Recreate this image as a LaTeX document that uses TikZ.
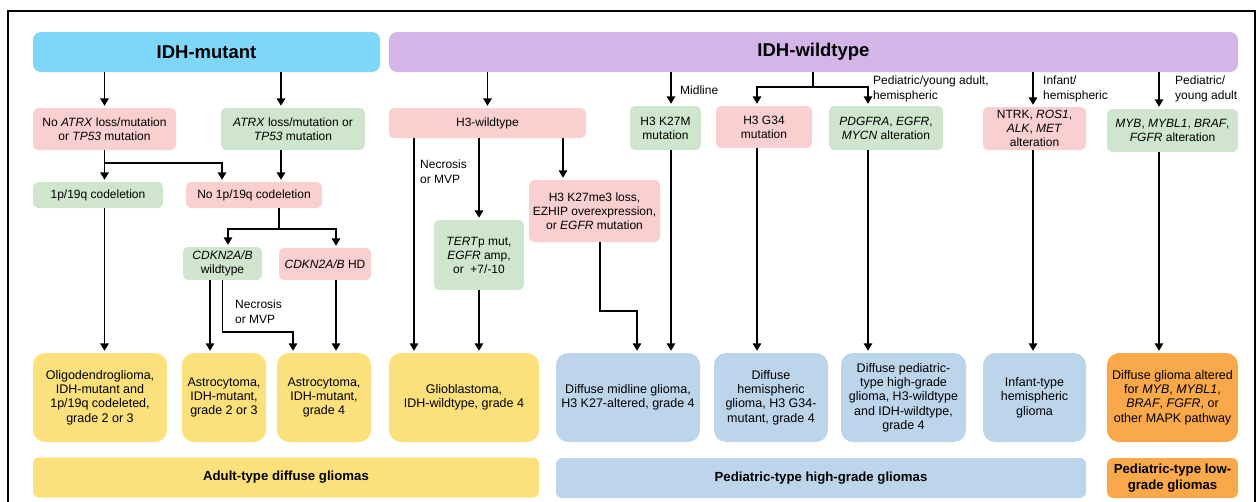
\documentclass[tikz,border=0pt]{standalone}
\usepackage{fontspec}
\setmainfont{Liberation Sans}
\usepackage{tikz}
\usetikzlibrary{
	arrows.meta,
	positioning,
	calc
}
\usepackage{xcolor}

\definecolor{mutblue}{HTML}{7ED6F8}
\definecolor{wtpurple}{HTML}{D3B6E7}
\definecolor{negpink}{HTML}{F9CFCF}
\definecolor{posgreen}{HTML}{CFE5CD}
\definecolor{adultyellow}{HTML}{FCE07C}
\definecolor{hggblue}{HTML}{BDD5EB}
\definecolor{lggorange}{HTML}{F9A84A}

\begin{document}
\begin{tikzpicture}[x=1pt,y=-1pt,
	box/.style={rounded corners=5pt, inner sep=0pt, align=center, font=\fontsize{12}{14}\selectfont},
	pinkbox/.style={box, fill=negpink},
	greenbox/.style={box, fill=posgreen},
	headbox/.style={rounded corners=8pt, inner sep=0pt, minimum height=40, font=\fontsize{18.5}{21}\selectfont\bfseries},
	entity/.style={rounded corners=12pt, inner sep=0pt, minimum height=89, align=center, font=\fontsize{12.5}{14.3}\selectfont},
	group/.style={rounded corners=6pt, inner sep=0pt, minimum height=40, align=center, font=\fontsize{13.2}{16}\selectfont\bfseries},
	note/.style={inner sep=0pt, anchor=west, align=left, font=\fontsize{12}{14.5}\selectfont},
	ln/.style={line width=1.6pt},
	arr/.style={line width=1.6pt, shorten >=2pt, -{Triangle[length=7.5pt,width=8.5pt]}}
	]
		
		\useasboundingbox (0,0) rectangle (1258,501);
		\draw[line width=2pt] (8,505) -- (8,11) -- (1255,11) -- (1255,505);
		
		\node[headbox, fill=mutblue, minimum width=347] (idhmut) at (206.5,52) {IDH-mutant};
		\node[headbox, fill=wtpurple, minimum width=849] (idhwt) at (813.5,52) {IDH-wildtype};
		
		\node[pinkbox, minimum width=143, minimum height=42] (noatrx) at (104.5,129) {No \textit{ATRX} loss/mutation\\or \textit{TP53} mutation};
		\node[greenbox, minimum width=144, minimum height=42] (atrx) at (293,129) {\textit{ATRX} loss/mutation or\\\textit{TP53} mutation};
		\node[greenbox, minimum width=130, minimum height=26] (codel) at (98,195) {1p/19q codeletion};
		\node[pinkbox, minimum width=136, minimum height=26] (nocodel) at (254,195) {No 1p/19q codeletion};
		\node[greenbox, minimum width=79, minimum height=33] (cdknwt) at (222.5,263.5) {\textit{CDKN2A/B}\\wildtype};
		\node[pinkbox, minimum width=92, minimum height=32] (cdknhd) at (325,264) {\textit{CDKN2A/B} HD};
		
		\node[pinkbox, minimum width=197, minimum height=30] (h3wt) at (487.5,123) {H3-wildtype};
		\node[greenbox, minimum width=90, minimum height=70] (tert) at (479,255) {\textit{TERT}p mut,\\\textit{EGFR} amp,\\or~~+7/-10};
		\node[pinkbox, minimum width=131, minimum height=62] (h3kme) at (594.5,211) {H3 K27me3 loss,\\EZHIP overexpression,\\or \textit{EGFR} mutation};
		\node[greenbox, minimum width=71, minimum height=44] (h3k27m) at (665.5,128) {H3 K27M\\mutation};
		\node[pinkbox, minimum width=96, minimum height=42] (h3g34) at (764,127) {H3 G34\\mutation};
		\node[greenbox, minimum width=114, minimum height=44] (pdgfra) at (886,128) {\textit{PDGFRA}, \textit{EGFR},\\\textit{MYCN} alteration};
		\node[pinkbox, minimum width=103, minimum height=43] (ntrk) at (1034.5,128.5) {NTRK, \textit{ROS1},\\\textit{ALK}, \textit{MET}\\alteration};
		\node[greenbox, minimum width=131, minimum height=43] (myb) at (1172.5,130.5) {\textit{MYB}, \textit{MYBL1}, \textit{BRAF},\\\textit{FGFR} alteration};
		
		\node[entity, fill=adultyellow, minimum width=134] (oligo) at (100,397.5) {Oligodendroglioma,\\IDH-mutant and\\1p/19q codeleted,\\grade 2 or 3};
		\node[entity, fill=adultyellow, minimum width=84] (astrolow) at (224,397.5) {Astrocytoma,\\IDH-mutant,\\grade 2 or 3};
		\node[entity, fill=adultyellow, minimum width=94] (astrohigh) at (324,397.5) {Astrocytoma,\\IDH-mutant,\\grade 4};
		\node[entity, fill=adultyellow, minimum width=150] (gbm) at (464,397.5) {Glioblastoma,\\IDH-wildtype, grade 4};
		\node[entity, fill=hggblue, minimum width=144] (dmg) at (628,397.5) {Diffuse midline glioma,\\H3 K27-altered, grade 4};
		\node[entity, fill=hggblue, minimum width=114] (dhg) at (771,397.5) {Diffuse\\hemispheric\\glioma, H3 G34-\\mutant, grade 4};
		\node[entity, fill=hggblue, minimum width=125] (dphgg) at (903.5,397.5) {Diffuse pediatric-\\type high-grade\\glioma, H3-wildtype\\and IDH-wildtype,\\grade 4};
		\node[entity, fill=hggblue, minimum width=103] (infant) at (1034.5,397.5) {Infant-type\\hemispheric\\glioma};
		\node[entity, fill=lggorange, minimum width=131] (mapk) at (1172.5,397.5) {Diffuse glioma altered\\for \textit{MYB}, \textit{MYBL1},\\\textit{BRAF}, \textit{FGFR}, or\\other MAPK pathway};
		
		\node[group, fill=adultyellow, minimum width=506] (adult) at (286,477.5) {Adult-type diffuse gliomas};
		\node[group, fill=hggblue, minimum width=530] (pedhgg) at (821,478) {Pediatric-type high-grade gliomas};
		\node[group, fill=lggorange, minimum width=131] (pedlgg) at (1172.5,478) {Pediatric-type low-\\grade gliomas};
		
		\node[note] (lblnecro1) at (235,311.5) {Necrosis\\or MVP};
		\node[note] (lblnecro2) at (420,171.5) {Necrosis\\or MVP};
		\node[note] (lblmid) at (680,90) {Midline};
		\node[note] (lblhemi) at (873,89) {Pediatric/young adult,\\hemispheric};
		\node[note] (lblinf) at (1043,89) {Infant/\\hemispheric};
		\node[note] (lblyoung) at (1175,89) {Pediatric/\\young adult};
		
		\coordinate (split1) at (222,163);
		\coordinate (split2) at (279,229);
		\coordinate (bend1) at (293,332);
		\coordinate (bend2) at (637,311);
		\coordinate (split3) at (813,87);
		
		\draw[arr] (idhmut.south -| noatrx.north) -- (noatrx.north);
		\draw[arr] (281,0 |- idhmut.south) -- (281,0 |- atrx.north);
		\draw[arr] (noatrx.south) -- (noatrx.south |- codel.north);
		\draw[arr] (noatrx.south) |- (split1) -- (split1 |- nocodel.north);
		\draw[arr] (281,0 |- atrx.south) -- (281,0 |- nocodel.north);
		\draw[ln] (split2 |- nocodel.south) -- (split2);
		\draw[arr] (split2) -| (228,0 |- cdknwt.north);
		\draw[arr] (split2) -| (336,0 |- cdknhd.north);
		\draw[arr] (104.5,0 |- codel.south) -- (104.5,0 |- oligo.north);
		\draw[arr] (210,0 |- cdknwt.south) -- (210,0 |- astrolow.north);
		\draw[arr] (cdknwt.south) |- (bend1) -- (bend1 |- astrohigh.north);
		\draw[arr] (336,0 |- cdknhd.south) -- (336,0 |- astrohigh.north);
		
		\draw[arr] (h3wt.north |- idhwt.south) -- (h3wt.north);
		\draw[arr] (414,0 |- h3wt.south) -- (414,0 |- gbm.north);
		\draw[arr] (tert.north |- h3wt.south) -- (tert.north);
		\draw[arr] (563,0 |- h3wt.south) -- (563,0 |- h3kme.north);
		\draw[arr] (tert.south) -- (tert.south |- gbm.north);
		\draw[arr] (600,0 |- h3kme.south) |- (bend2) -- (bend2 |- dmg.north);
		\draw[arr] (671,0 |- idhwt.south) -- (671,0 |- h3k27m.north);
		\draw[arr] (671,0 |- h3k27m.south) -- (671,0 |- dmg.north);
		\draw[ln] (split3 |- idhwt.south) -- (split3);
		\draw[arr] (split3) -| (757,0 |- h3g34.north);
		\draw[arr] (split3) -| (868,0 |- pdgfra.north);
		\draw[arr] (757,0 |- h3g34.south) -- (757,0 |- dhg.north);
		\draw[arr] (868,0 |- pdgfra.south) -- (868,0 |- dphgg.north);
		\draw[arr] (1033,0 |- idhwt.south) -- (1033,0 |- ntrk.north);
		\draw[arr] (1033,0 |- ntrk.south) -- (1033,0 |- infant.north);
		\draw[arr] (1159,0 |- idhwt.south) -- (1159,0 |- myb.north);
		\draw[arr] (1159,0 |- myb.south) -- (1159,0 |- mapk.north);
		
	\end{tikzpicture}
\end{document}
